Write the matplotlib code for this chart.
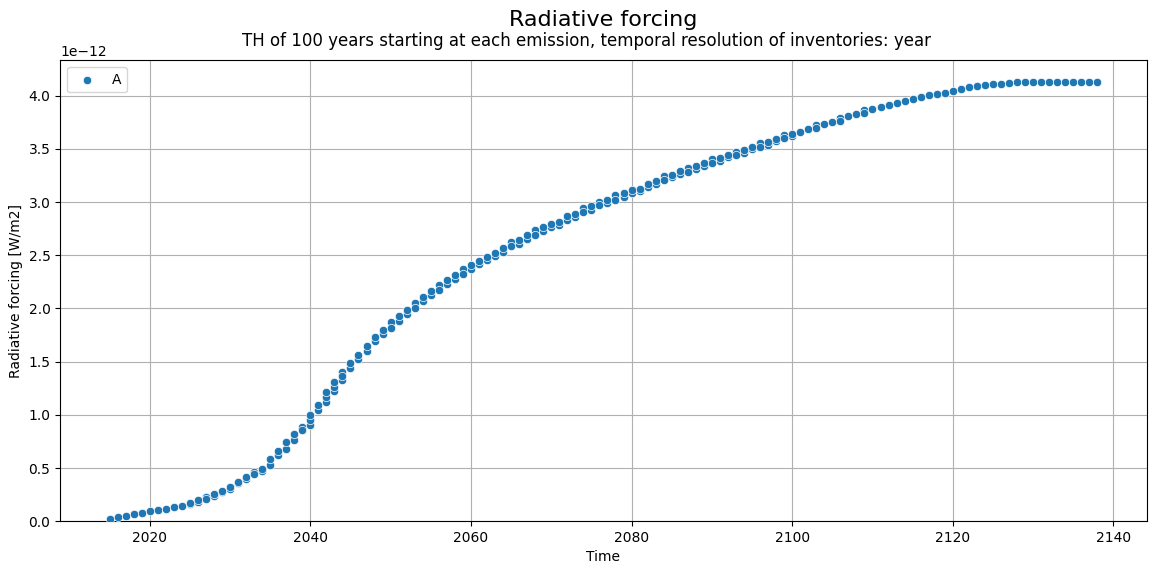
#!/usr/bin/env python3
import matplotlib

matplotlib.use("Agg")
import matplotlib.pyplot as plt
import numpy as np

# yearly radiative forcing (units of 1e-12 W/m2), one visible dot per year
years = np.arange(2015, 2139)
forcing = [
    0.025, 0.037, 0.053, 0.066, 0.081, 0.094, 0.106, 0.119, 0.131, 0.140,
    0.170, 0.197, 0.213, 0.253, 0.284, 0.321, 0.372, 0.415, 0.447, 0.494,
    0.581, 0.659, 0.743, 0.815, 0.859, 1.002, 1.093, 1.218, 1.305, 1.368,
    1.483, 1.564, 1.649, 1.727, 1.801, 1.820, 1.930, 1.990, 2.007, 2.108,
    2.164, 2.170, 2.264, 2.314, 2.320, 2.405, 2.448, 2.482, 2.523, 2.565,
    2.583, 2.648, 2.689, 2.695, 2.763, 2.798, 2.813, 2.866, 2.892, 2.907,
    2.960, 2.976, 3.019, 3.023, 3.082, 3.113, 3.126, 3.169, 3.201, 3.210,
    3.257, 3.288, 3.281, 3.341, 3.366, 3.366, 3.413, 3.444, 3.444, 3.491,
    3.522, 3.522, 3.563, 3.594, 3.600, 3.641, 3.656, 3.688, 3.694, 3.735,
    3.756, 3.763, 3.810, 3.829, 3.841, 3.875, 3.894, 3.913, 3.934, 3.950,
    3.965, 3.988, 4.006, 4.016, 4.028, 4.047, 4.063, 4.078, 4.094, 4.103,
    4.109, 4.112, 4.122, 4.128, 4.128, 4.128, 4.128, 4.128, 4.128, 4.128,
    4.128, 4.128, 4.128, 4.128,
]

# extra dots hidden behind the main ones (same year, slightly different value)
extra_years = [
    2025, 2026, 2027, 2028, 2029, 2030, 2031, 2032, 2033, 2034,
    2035, 2036, 2037, 2038, 2039, 2040, 2040, 2041, 2042, 2042,
    2043, 2043, 2044, 2044, 2045, 2046, 2047, 2048, 2049, 2050,
    2051, 2052, 2053, 2054, 2055, 2056, 2057, 2058, 2059, 2060,
    2061, 2062, 2063, 2064, 2065, 2066, 2067, 2068, 2069, 2070,
    2071, 2072, 2073, 2074, 2075, 2076, 2077, 2078, 2079, 2080,
    2081, 2082, 2083, 2084, 2085, 2086, 2087, 2088, 2089, 2090,
    2091, 2092, 2093, 2094, 2095, 2096, 2097, 2098, 2099, 2100,
    2103, 2106, 2109,
]
extra_forcing = [
    0.160, 0.185, 0.228, 0.240, 0.270, 0.305, 0.355, 0.397, 0.465, 0.470,
    0.525, 0.618, 0.681, 0.759, 0.890, 0.906, 0.955, 1.046, 1.124, 1.171,
    1.227, 1.258, 1.330, 1.399, 1.440, 1.524, 1.602, 1.690, 1.760, 1.873,
    1.883, 1.951, 2.054, 2.070, 2.123, 2.220, 2.226, 2.273, 2.367, 2.367,
    2.414, 2.451, 2.492, 2.535, 2.626, 2.607, 2.654, 2.733, 2.726, 2.766,
    2.789, 2.829, 2.860, 2.944, 2.929, 3.000, 2.991, 3.063, 3.051, 3.085,
    3.100, 3.140, 3.169, 3.241, 3.232, 3.260, 3.319, 3.310, 3.340, 3.404,
    3.390, 3.420, 3.475, 3.465, 3.500, 3.553, 3.540, 3.575, 3.632, 3.620,
    3.720, 3.790, 3.865,
]

title = "Radiative forcing"
subtitle = "TH of 100 years starting at each emission, temporal resolution of inventories: year"


def main() -> None:
    x = np.concatenate([np.asarray(extra_years, dtype=float), years.astype(float)])
    y = np.concatenate([np.asarray(extra_forcing), np.asarray(forcing)]) * 1e-12

    fig, ax = plt.subplots(figsize=(11.56, 5.74), dpi=100)
    fig.subplots_adjust(left=0.052, right=0.992, top=0.895, bottom=0.092)

    ax.scatter(x, y, s=36, color="#1f77b4", edgecolors="white",
               linewidths=0.48, label="A", zorder=3)

    ax.set_ylim(bottom=0)
    ax.set_xlabel("Time")
    ax.set_ylabel("Radiative forcing [W/m2]")
    ax.grid(True)
    ax.set_axisbelow(True)
    ax.legend(loc="upper left")

    fig.text(0.522, 0.965, title, fontsize=16, ha="center", va="center")
    fig.text(0.507, 0.929, subtitle, fontsize=12, ha="center", va="center")

    fig.savefig("out.png", dpi=100)


if __name__ == "__main__":
    main()
